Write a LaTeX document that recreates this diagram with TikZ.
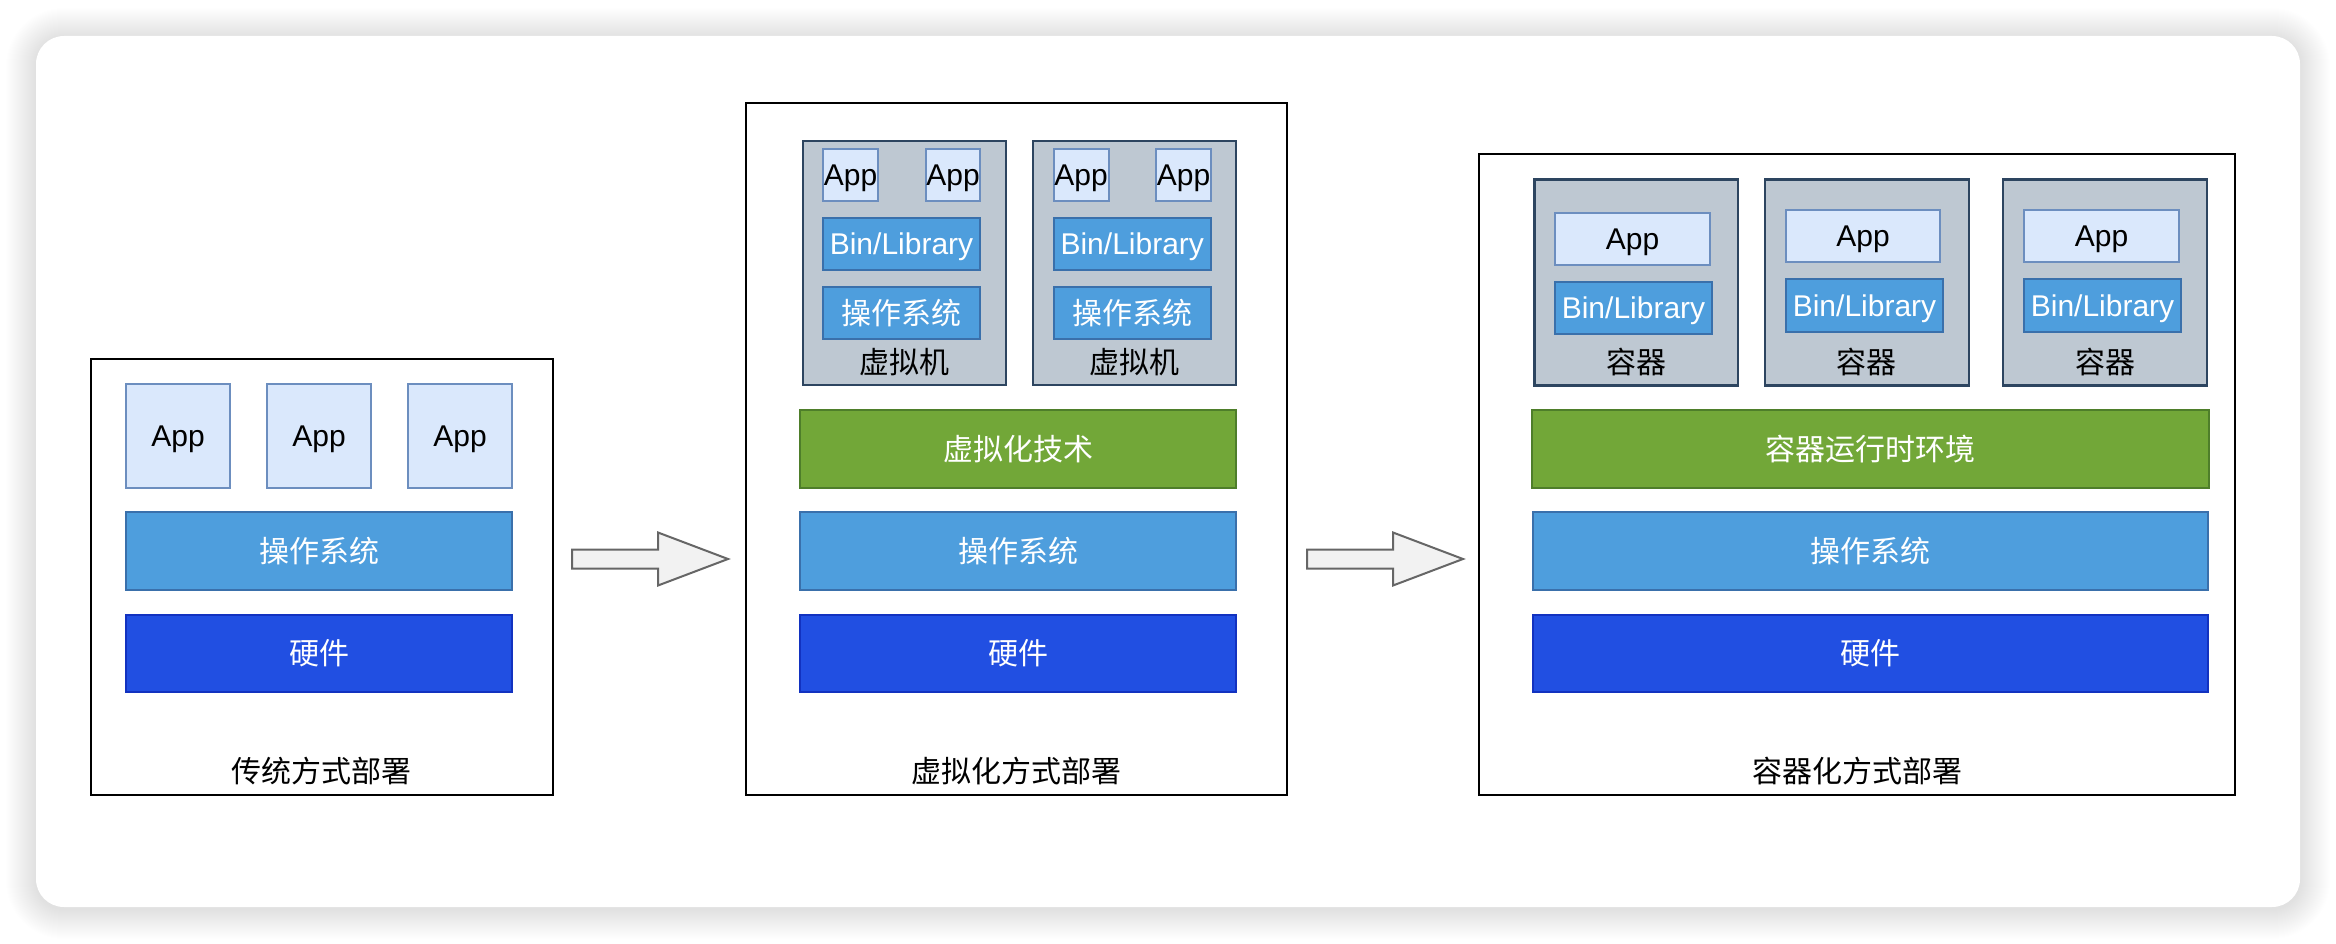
\documentclass[tikz,border=0pt]{standalone}
\usepackage{fontspec}
\setmainfont{Liberation Sans}
\newfontfamily\cjk{Noto Sans CJK SC}
\definecolor{appfill}{HTML}{DAE8FC}
\definecolor{appdraw}{HTML}{6C8EBF}
\definecolor{osfill}{HTML}{4E9EDD}
\definecolor{osdraw}{HTML}{3A70AB}
\definecolor{hwfill}{HTML}{214FE2}
\definecolor{hwdraw}{HTML}{1232C0}
\definecolor{gfill}{HTML}{72A738}
\definecolor{gdraw}{HTML}{4E7E2A}
\definecolor{vmfill}{HTML}{BEC8D2}
\definecolor{vmdraw}{HTML}{2D4560}
\definecolor{arrfill}{HTML}{F2F2F2}
\definecolor{arrdraw}{HTML}{666666}
\tikzset{
  base/.style={rectangle, inner sep=0pt, outer sep=0pt, font=\fontsize{30}{32}\selectfont},
  lat/.style={text height=27.6pt, text depth=6.3pt},
  frame/.style={base, draw=black, line width=2.5pt, fill=white},
  appbox/.style={base, lat, fill=appfill, draw=appdraw, line width=2pt, text=black},
  osbox/.style={base, fill=osfill, draw=osdraw, line width=2pt, text=white},
  binbox/.style={osbox, lat},
  hwbox/.style={base, fill=hwfill, draw=hwdraw, line width=2pt, text=white},
  gbox/.style={base, fill=gfill, draw=gdraw, line width=2pt, text=white},
  vmbox/.style={base, fill=vmfill, draw=vmdraw, line width=2.5pt},
  lbl/.style={base, text=black},
  bigarrow/.style={fill=arrfill, draw=arrdraw, line width=2pt, line join=miter},
  shadowring/.style={fill=black, opacity=0.0055},
}
\newcommand\bx[7]{\node[#1, minimum width={(#5-#3)*1pt}, minimum height={(#6-#4)*1pt}] (#2) at ({(#3+#5)/2},{(#4+#6)/2}) {#7};}
\begin{document}
\begin{tikzpicture}[x=1pt, y=-1pt]
\useasboundingbox (0,0) rectangle (2336,944);
\fill[white] (0,0) rectangle (2336,944);
% panel shadow
\foreach \i in {1,...,30}{
  \fill[shadowring, rounded corners={(28+\i)*1pt}] ({36-\i},{38-\i}) rectangle ({2300+\i},{909+\i});
}
\fill[white, rounded corners=28pt] (36,36) rectangle (2300,907);

% traditional
\bx{frame}{tf}{91}{359}{553}{795}{}
\bx{appbox}{ta1}{126}{384}{230}{488}{App}
\bx{appbox}{ta2}{267}{384}{371}{488}{App}
\bx{appbox}{ta3}{408}{384}{512}{488}{App}
\bx{osbox}{tos}{126}{512}{512}{590}{\cjk 操作系统}
\bx{hwbox}{thw}{126}{615}{512}{692}{\cjk 硬件}
\node[lbl] (tl) at (321,771) {\cjk 传统方式部署};

% virtualization
\bx{frame}{vf}{746}{103}{1287}{795}{}
\bx{vmbox}{vm1}{803}{141}{1006}{385}{}
\bx{vmbox}{vm2}{1033}{141}{1236}{385}{}
\bx{appbox}{v1a1}{823}{149}{878}{201}{App}
\bx{appbox}{v1a2}{926}{149}{980}{201}{App}
\bx{binbox}{v1bin}{823}{218}{980}{270}{Bin/Library}
\bx{osbox}{v1os}{823}{287}{980}{339}{\cjk 操作系统}
\node[lbl] (v1l) at (904.5,362) {\cjk 虚拟机};
\bx{appbox}{v2a1}{1053.5}{149}{1108.5}{201}{App}
\bx{appbox}{v2a2}{1156}{149}{1211}{201}{App}
\bx{binbox}{v2bin}{1053.5}{218}{1211}{270}{Bin/Library}
\bx{osbox}{v2os}{1053.5}{287}{1211}{339}{\cjk 操作系统}
\node[lbl] (v2l) at (1134,362) {\cjk 虚拟机};
\bx{gbox}{vg}{800}{410}{1236}{488}{\cjk 虚拟化技术}
\bx{osbox}{vos}{800}{512}{1236}{590}{\cjk 操作系统}
\bx{hwbox}{vhw}{800}{615}{1236}{692}{\cjk 硬件}
\node[lbl] (vl) at (1016,771) {\cjk 虚拟化方式部署};

% containers
\bx{frame}{cf}{1479}{154}{2235}{795}{}
\bx{vmbox}{c1}{1534.5}{179.5}{1738}{385.5}{}
\bx{vmbox}{c2}{1765}{179.5}{1969}{385.5}{}
\bx{vmbox}{c3}{2003}{179.5}{2207}{385.5}{}
\bx{appbox}{c1a}{1555}{213}{1710}{265}{App}
\bx{binbox}{c1b}{1555}{282}{1712}{334}{Bin/Library}
\node[lbl] (c1l) at (1636,362) {\cjk 容器};
\bx{appbox}{c2a}{1786}{210}{1940}{262}{App}
\bx{binbox}{c2b}{1786}{279}{1943}{332}{Bin/Library}
\node[lbl] (c2l) at (1866.5,362) {\cjk 容器};
\bx{appbox}{c3a}{2024}{210}{2179}{262}{App}
\bx{binbox}{c3b}{2024}{279}{2181}{332}{Bin/Library}
\node[lbl] (c3l) at (2105,362) {\cjk 容器};
\bx{gbox}{cg}{1532}{410}{2209}{488}{\cjk 容器运行时环境}
\bx{osbox}{cos}{1533}{512}{2208}{590}{\cjk 操作系统}
\bx{hwbox}{chw}{1533}{615}{2208}{692}{\cjk 硬件}
\node[lbl] (cl) at (1857,771) {\cjk 容器化方式部署};

% block arrows
\draw[bigarrow] (572,549.5) -- (658,549.5) -- (658,532.5) -- (728,559) -- (658,585.5) -- (658,568.5) -- (572,568.5) -- cycle;
\draw[bigarrow] (1307,549.5) -- (1393,549.5) -- (1393,532.5) -- (1463,559) -- (1393,585.5) -- (1393,568.5) -- (1307,568.5) -- cycle;
\end{tikzpicture}
\end{document}
